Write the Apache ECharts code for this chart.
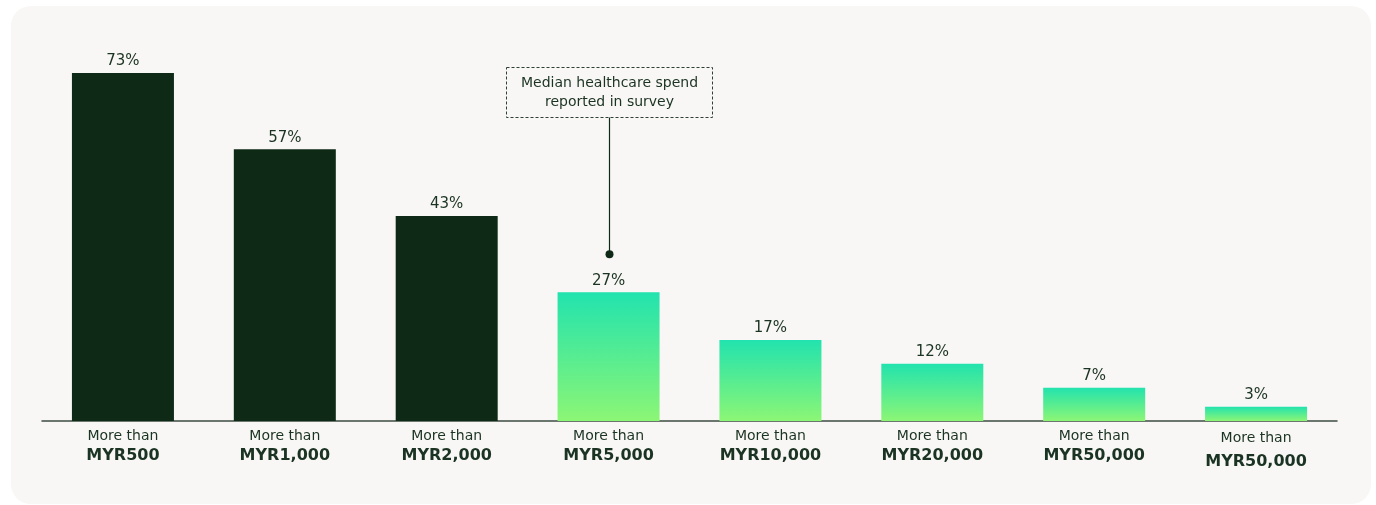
<!DOCTYPE html>
<html>
<head>
<meta charset="utf-8">
<style>
  html, body { margin: 0; padding: 0; background: #ffffff; }
  #chart { width: 1376px; height: 505px; }
</style>
<script src="https://cdn.jsdelivr.net/npm/echarts@6/dist/echarts.min.js"></script>
</head>
<body>
<div id="chart"></div>
<script>
// Share of respondents whose annual healthcare spend exceeds each threshold
const thresholds = ['MYR500', 'MYR1,000', 'MYR2,000', 'MYR5,000', 'MYR10,000', 'MYR20,000', 'MYR50,000', 'MYR50,000'];
const prefixText = 'More than';
const shares = [73, 57, 43, 27, 17, 12, 7, 3];
const medianIndex = 3;
const medianNote = ['Median healthcare spend', 'reported in survey'];

const FONT = '"DejaVu Sans", "Noto Sans", sans-serif';
const TEXT = '#1b3322';
const DARK = '#0e2a16';

const gradient = new echarts.graphic.LinearGradient(0, 0, 0, 1, [
  { offset: 0, color: '#22e3ae' },
  { offset: 1, color: '#8cf675' }
]);

const chart = echarts.init(document.getElementById('chart'), null, { renderer: 'canvas' });

const option = {
  animation: false,
  backgroundColor: '#ffffff',
  textStyle: { fontFamily: FONT },
  grid: { left: 42, right: 39, top: 73, bottom: 84 },
  xAxis: {
    type: 'category',
    data: thresholds,
    axisTick: { show: false },
    axisLine: { lineStyle: { color: '#3d4d42', width: 1.5 } },
    axisLabel: {
      interval: 0,
      margin: 6,
      formatter: (v, i) => i === thresholds.length - 1
        ? '{d|' + prefixText + '}\n{c|' + v + '}'
        : '{a|' + prefixText + '}\n{b|' + v + '}',
      rich: {
        a: { fontFamily: FONT, fontSize: 14, color: TEXT, lineHeight: 19 },
        b: { fontFamily: FONT, fontSize: 16, fontWeight: 'bold', color: TEXT, lineHeight: 19 },
        d: { fontFamily: FONT, fontSize: 14, color: TEXT, lineHeight: 23 },
        c: { fontFamily: FONT, fontSize: 16, fontWeight: 'bold', color: TEXT, lineHeight: 23 }
      }
    }
  },
  yAxis: {
    type: 'value',
    min: 0,
    max: 73,
    show: false,
    splitLine: { show: false }
  },
  series: [{
    type: 'bar',
    barWidth: 102,
    data: shares.map((v, i) => ({
      value: v,
      itemStyle: { color: i < medianIndex ? DARK : gradient }
    })),
    label: {
      show: true,
      position: 'top',
      distance: 4,
      formatter: '{c}%',
      fontFamily: FONT,
      fontSize: 15,
      color: TEXT
    }
  }]
};

chart.setOption(option);

// Card background, median callout box, leader line and dot
const barTop = chart.convertToPixel({ xAxisIndex: 0, yAxisIndex: 0 }, [medianIndex, shares[medianIndex]]);
const cx = Math.round(barTop[0]) + 0.5;
const dotY = barTop[1] - 38;
const boxW = 206, boxH = 50, boxY = 67.5;

chart.setOption({
  graphic: [
    {
      type: 'rect', z: -10, silent: true,
      shape: { x: 11, y: 6, width: 1360, height: 498, r: 20 },
      style: { fill: '#f8f7f5' }
    },
    {
      type: 'rect', z: 10,
      shape: { x: cx - boxW / 2, y: boxY, width: boxW, height: boxH },
      style: { fill: 'transparent', stroke: '#2f3f34', lineWidth: 1, lineDash: [3, 2] }
    },
    {
      type: 'text', z: 11,
      style: {
        x: cx, y: boxY + boxH / 2,
        text: medianNote.join('\n'),
        align: 'center', verticalAlign: 'middle',
        font: '14px ' + FONT, lineHeight: 19, fill: TEXT
      }
    },
    {
      type: 'line', z: 10,
      shape: { x1: cx, y1: boxY + boxH, x2: cx, y2: dotY },
      style: { stroke: DARK, lineWidth: 1.2 }
    },
    {
      type: 'circle', z: 11,
      shape: { cx: cx, cy: dotY, r: 4 },
      style: { fill: DARK }
    }
  ]
});
</script>
</body>
</html>
